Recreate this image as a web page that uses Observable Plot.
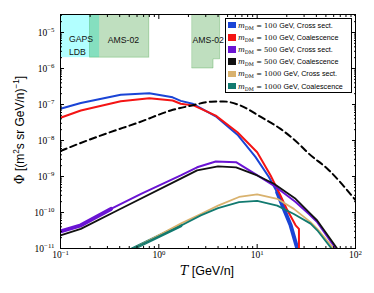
<!DOCTYPE html>
<html>
<head>
<meta charset="utf-8">
<script src="https://cdn.jsdelivr.net/npm/d3@7"></script>
<script src="https://cdn.jsdelivr.net/npm/@observablehq/plot@0.6"></script>
<style>
html,body{margin:0;padding:0;background:#fff;}
#wrap{position:relative;width:374px;height:293px;overflow:hidden;}
#legend{position:absolute;left:225px;top:18px;width:127px;height:75px;border:1px solid #000;background:#fff;box-sizing:border-box;font-family:"Liberation Sans",Arial,sans-serif;font-size:7.2px;color:#000;}
#legend .row{position:absolute;left:2px;height:12px;line-height:12px;white-space:nowrap;}
#legend .sw{display:inline-block;width:8px;height:6.5px;vertical-align:middle;margin-right:2px;margin-top:-1px;}
#legend .m{font-family:"DejaVu Serif",serif;font-style:italic;font-size:7.2px;}
#legend .s{font-family:"DejaVu Serif",serif;font-size:5px;vertical-align:-1.5px;}
#legend .n{font-family:"DejaVu Serif",serif;font-size:6.8px;}
</style>
</head>
<body>
<div id="wrap"></div>
<script>
// ---- data ----
const T_100cs   = [0.1, 0.161, 0.41, 0.8, 1.38, 1.67, 2.2, 3.79, 6.3, 9.6, 13.2, 16, 18.7, 21.9, 25.6, 26.2];
const phi_100cs = [7.6e-8, 1.10e-7, 1.86e-7, 2.04e-7, 1.58e-7, 1.26e-7, 1.05e-7, 4.7e-8, 1.45e-8, 3.5e-9, 9.5e-10, 3.6e-10, 1.26e-10, 4.4e-11, 1.0e-11, 7e-12];

const T_100co   = [0.1, 0.161, 0.41, 0.8, 1.38, 1.67, 2.28, 3.79, 6.3, 10.0, 13.7, 17.3, 20.3, 24.6, 26.6, 26.6];
const phi_100co = [4.3e-8, 6.8e-8, 1.23e-7, 1.5e-7, 1.29e-7, 1.05e-7, 9.3e-8, 4.9e-8, 1.7e-8, 4.7e-9, 1.07e-9, 2.95e-10, 1.15e-10, 4.4e-11, 3.5e-11, 5e-12];

const T_500cs   = [0.1, 0.161, 0.326, 0.66, 1.67, 2.45, 3.79, 6.1, 9.6, 14.8, 24.6, 33.6, 40.8, 60, 63];
const phi_500cs = [3.0e-11, 4.4e-11, 1.26e-10, 3.3e-10, 1.07e-9, 1.8e-9, 2.6e-9, 2.5e-9, 1.17e-9, 5.6e-10, 1.95e-10, 9.1e-11, 5.4e-11, 1.2e-11, 9e-12];

const T_500co   = [0.1, 0.161, 0.4, 1.67, 2.45, 4.0, 6.1, 10, 14.8, 24.6, 34.9, 40.8, 65, 67];
const phi_500co = [2.3e-11, 3.5e-11, 1.23e-10, 8.7e-10, 1.48e-9, 1.9e-9, 1.8e-9, 1.07e-9, 6.3e-10, 2.4e-10, 9.1e-11, 6.0e-11, 1.0e-11, 8e-12];

const T_1000cs   = [0.52, 1.67, 2.67, 4.0, 6.54, 10, 16, 23.6, 34.9, 40.8, 60, 62];
const phi_1000cs = [9e-12, 4.9e-11, 9.1e-11, 1.55e-10, 2.7e-10, 3.2e-10, 2.4e-10, 1.26e-10, 5.4e-11, 3.5e-11, 1.0e-11, 8e-12];

const T_1000co   = [0.51, 1.67, 2.67, 4.0, 6.54, 10, 16, 23.6, 34.9, 40.8, 57, 59];
const phi_1000co = [9e-12, 4.3e-11, 8.3e-11, 1.32e-10, 1.95e-10, 2.1e-10, 1.55e-10, 9.1e-11, 4.9e-11, 3.2e-11, 1.0e-11, 8e-12];

const T_bg   = [0.1, 0.114, 0.29, 0.63, 1.32, 2.2, 3.4, 4.5, 6.8, 10.9, 17.3, 27.7, 32.4, 53.6, 100];
const phi_bg = [5.1e-9, 5.9e-9, 1.55e-8, 3.2e-8, 6.8e-8, 9.5e-8, 1.2e-7, 1.22e-7, 9.3e-8, 4.5e-8, 2.1e-8, 7.2e-9, 4.7e-9, 1.5e-9, 2.2e-10];

// sensitivity regions
const gapsT = [0.1, 0.25];   const gapsPhi = [2e-6, 3.2e-5];
const amsLowT = [0.2, 0.8];  const amsLowPhi = [2e-6, 3.2e-5];
const amsHighT = [2.2, 3.6, 4.2]; const amsHighPhiLow = [1e-6, 1.8e-6, 1.8e-6]; const amsHighPhiTop = 3.2e-5;

const seriesNames = [
  "100 GeV, Cross sect.", "100 GeV, Coalescence",
  "500 GeV, Cross sect.", "500 GeV, Coalescence",
  "1000 GeV, Cross sect.", "1000 GeV, Coalescence"
];
const seriesColors = ["#1a44d6", "#f41414", "#6a14d4", "#111111", "#d9b26e", "#127a70"];
const seriesT   = [T_100cs, T_100co, T_500cs, T_500co, T_1000cs, T_1000co];
const seriesPhi = [phi_100cs, phi_100co, phi_500cs, phi_500co, phi_1000cs, phi_1000co];

const xMajor = [0.1, 1, 10, 100];
const yMajor = [1e-11, 1e-10, 1e-9, 1e-8, 1e-7, 1e-6, 1e-5];
const labelsStart = [
  {T: 0.122, phi: 6.4e-6, text: "GAPS"},
  {T: 0.122, phi: 2.8e-6, text: "LDB"}
];
const labelsMiddle = [
  {T: 0.436, phi: 6.3e-6, text: "AMS-02"},
  {T: 3.18, phi: 6.3e-6, text: "AMS-02"}
];

// ---- build ----
const xMinor = [], yMinor = [];
for (let e = -1; e < 2; e++) for (let k = 2; k < 10; k++) xMinor.push(k * 10 ** e);
for (let e = -11; e < -4; e++) for (let k = 2; k < 10; k++) { const v = k * 10 ** e; if (v < 3.16e-5) yMinor.push(v); }

const fmt = d => "10|" + String(Math.round(Math.log10(d))).replace("-", "\u2212");

const toRows = (T, P) => T.map((t, i) => ({T: t, phi: P[i]}));
const amsHigh = amsHighT.map((t, i) => ({T: t, lo: amsHighPhiLow[i], hi: amsHighPhiTop}));
const sansFont = "Liberation Sans, Arial, sans-serif";

const marks = [
  Plot.rect([{}], {x1: gapsT[0], x2: gapsT[1], y1: gapsPhi[0], y2: gapsPhi[1], fill: "cyan", fillOpacity: 0.3, clip: true}),
  Plot.rect([{}], {x1: amsLowT[0], x2: amsLowT[1], y1: amsLowPhi[0], y2: amsLowPhi[1], fill: "green", fillOpacity: 0.25, stroke: "green", strokeOpacity: 0.3, strokeWidth: 0.8, clip: true}),
  Plot.areaY(amsHigh, {x: "T", y1: "lo", y2: "hi", curve: "step-after", fill: "green", fillOpacity: 0.25, stroke: "green", strokeOpacity: 0.3, strokeWidth: 0.8, clip: true}),
  Plot.text(labelsStart, {x: "T", y: "phi", text: "text", textAnchor: "start", fontFamily: sansFont, fontSize: 8.7, fill: "#111"}),
  Plot.text(labelsMiddle, {x: "T", y: "phi", text: "text", textAnchor: "middle", fontFamily: sansFont, fontSize: 8.7, fill: "#111"}),
  // thick uncertainty-like portions
  Plot.line(toRows(T_100cs.slice(11), phi_100cs.slice(11)), {x: "T", y: "phi", stroke: seriesColors[0], strokeWidth: 4, clip: true}),
  Plot.line(toRows(T_500cs.slice(0, 3), phi_500cs.slice(0, 3)), {x: "T", y: "phi", stroke: seriesColors[2], strokeWidth: 4, clip: true}),
  Plot.line(toRows(T_1000co.slice(0, 2), phi_1000co.slice(0, 2)), {x: "T", y: "phi", stroke: seriesColors[5], strokeWidth: 3.5, clip: true}),
  ...seriesT.map((T, i) => Plot.line(toRows(T, seriesPhi[i]), {x: "T", y: "phi", stroke: seriesColors[i], strokeWidth: i < 3 ? 2 : 1.8, clip: true})),
  Plot.line(toRows(T_bg, phi_bg), {x: "T", y: "phi", stroke: "black", strokeWidth: 2, strokeDasharray: "6.5,4", curve: "monotone-x", clip: true}),
  Plot.axisX(xMajor, {anchor: "bottom", tickSize: -4, tickPadding: 7, tickFormat: fmt, label: null}),
  Plot.axisX(xMinor, {anchor: "bottom", tickSize: -2, tickFormat: () => "", label: null}),
  Plot.axisX(xMajor, {anchor: "top", tickSize: -4, tickFormat: () => "", label: null}),
  Plot.axisX(xMinor, {anchor: "top", tickSize: -2, tickFormat: () => "", label: null}),
  Plot.axisY(yMajor, {anchor: "left", tickSize: -4, tickPadding: 10, tickFormat: fmt, label: null}),
  Plot.axisY(yMinor, {anchor: "left", tickSize: -2, tickFormat: () => "", label: null}),
  Plot.axisY(yMajor, {anchor: "right", tickSize: -4, tickFormat: () => "", label: null}),
  Plot.axisY(yMinor, {anchor: "right", tickSize: -2, tickFormat: () => "", label: null}),
  Plot.frame({stroke: "black", strokeWidth: 1})
];

const chart = Plot.plot({
  width: 374, height: 293,
  marginLeft: 60, marginRight: 19, marginTop: 14, marginBottom: 45,
  x: {type: "log", domain: [0.1, 100]},
  y: {type: "log", domain: [1e-11, 10 ** -4.5]},
  style: {fontFamily: "Liberation Serif, serif", fontSize: "9.5px", color: "black", background: "white", overflow: "visible"},
  marks
});

const svg = d3.select(chart);
// turn "10|e" tick labels into 10 with superscript exponent
svg.selectAll("text").each(function() {
  const t = this.textContent;
  if (t && t.startsWith("10|")) {
    const e = t.slice(3);
    const sel = d3.select(this);
    sel.text(null);
    sel.append("tspan").text("10");
    sel.append("tspan").attr("font-size", "6.8px").attr("dy", "-0.45em").text(e);
  }
});

// axis titles as real SVG text
const xt = svg.append("text").attr("x", 207).attr("y", 274.5).attr("text-anchor", "middle")
  .attr("font-family", sansFont).attr("font-size", 12.5).attr("fill", "black");
xt.append("tspan").attr("font-family", "DejaVu Serif, serif").attr("font-style", "italic").text("T");
xt.append("tspan").text(" [GeV/n]");

const yt = svg.append("text").attr("transform", "translate(23.5,130) rotate(-90)").attr("text-anchor", "middle")
  .attr("font-family", sansFont).attr("font-size", 12).attr("fill", "black");
yt.append("tspan").attr("font-family", "DejaVu Serif, serif").text("\u03A6");
yt.append("tspan").text(" [(m");
yt.append("tspan").attr("font-size", 8.2).attr("dy", -5).text("2");
yt.append("tspan").attr("dy", 5).text("s sr GeV/n)");
yt.append("tspan").attr("font-size", 8.2).attr("dy", -5).text("\u22121");
yt.append("tspan").attr("dy", 5).text("]");

const wrap = document.getElementById("wrap");
wrap.appendChild(chart);

// legend (HTML, real text)
const lg = document.createElement("div");
lg.id = "legend";
seriesNames.forEach((name, i) => {
  const row = document.createElement("div");
  row.className = "row";
  row.style.top = (0.5 + i * 12.2) + "px";
  const parts = name.split(" GeV");
  row.innerHTML = `<span class="sw" style="background:${seriesColors[i]}"></span><span class="m">m</span><span class="s">DM</span><span class="n"> = ${parts[0]} </span>GeV${parts[1]}`;
  lg.appendChild(row);
});
wrap.appendChild(lg);
</script>
</body>
</html>
